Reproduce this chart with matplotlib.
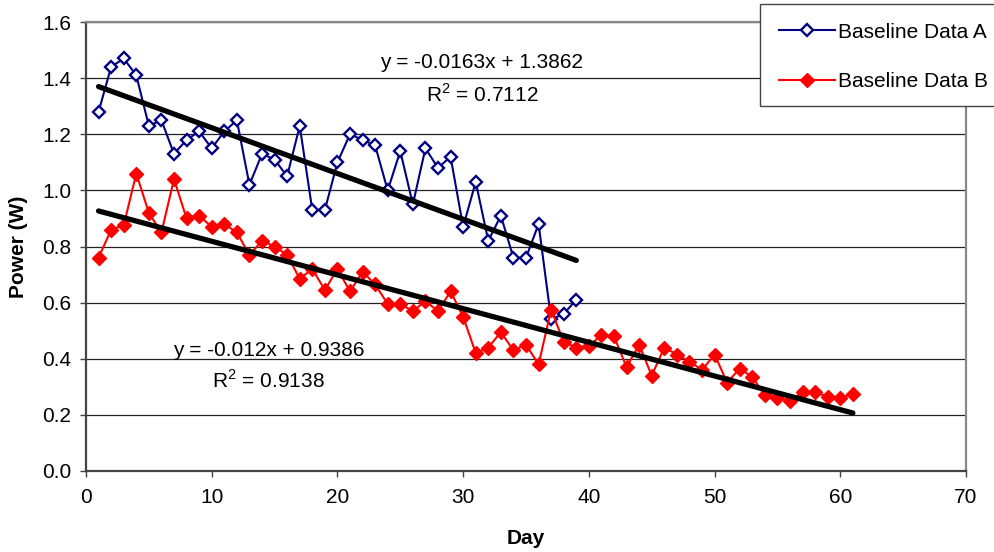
import numpy as np
import matplotlib
matplotlib.use("Agg")
import matplotlib.pyplot as plt
from matplotlib.patches import Rectangle

plt.rcParams["font.family"] = ["Liberation Sans", "DejaVu Sans"]
plt.rcParams["mathtext.fontset"] = "custom"
plt.rcParams["mathtext.rm"] = "Liberation Sans"

# ---- data ----
days_a = list(range(1, 40))
power_a = [1.28, 1.44, 1.47, 1.41, 1.23, 1.25, 1.13, 1.18, 1.21, 1.15,
           1.21, 1.25, 1.02, 1.13, 1.11, 1.05, 1.23, 0.93, 0.93, 1.10,
           1.20, 1.18, 1.16, 1.00, 1.14, 0.95, 1.15, 1.08, 1.12, 0.87,
           1.03, 0.82, 0.91, 0.76, 0.76, 0.88, 0.54, 0.56, 0.61]

days_b = list(range(1, 62))
power_b = [0.76, 0.86, 0.875, 1.06, 0.92, 0.85, 1.04, 0.90, 0.91, 0.87,
           0.88, 0.85, 0.77, 0.82, 0.80, 0.77, 0.685, 0.72, 0.645, 0.72,
           0.64, 0.71, 0.665, 0.595, 0.595, 0.57, 0.605, 0.57, 0.64, 0.55,
           0.42, 0.44, 0.495, 0.43, 0.45, 0.38, 0.575, 0.46, 0.44, 0.445,
           0.485, 0.48, 0.37, 0.45, 0.34, 0.44, 0.415, 0.39, 0.36, 0.415,
           0.315, 0.365, 0.335, 0.27, 0.26, 0.25, 0.28, 0.28, 0.265, 0.26,
           0.275]

# linear trend coefficients (slope, intercept) and R^2
trend_a = (-0.0163, 1.3862, 0.7112)
trend_b = (-0.012, 0.9386, 0.9138)

x_ticks = [0, 10, 20, 30, 40, 50, 60, 70]
y_ticks = [0.0, 0.2, 0.4, 0.6, 0.8, 1.0, 1.2, 1.4, 1.6]

FS = 15

# ---- figure ----
fig = plt.figure(figsize=(9.94, 5.52), dpi=100)
ax = fig.add_axes([86 / 994, 81 / 552, 880 / 994, 449 / 552])

ax.set_xlim(0, 70)
ax.set_ylim(0, 1.6)
ax.set_xticks(x_ticks)
ax.set_yticks(y_ticks)
ax.set_yticklabels([f"{v:.1f}" for v in y_ticks])

ax.grid(axis="y", color="#222222", linewidth=0.9)
ax.set_axisbelow(True)

ax.plot(days_a, power_a, color="#000080", linewidth=1.5, marker="D",
        markersize=6, markerfacecolor="white", markeredgecolor="#000080",
        markeredgewidth=1.7, label="Baseline Data A", zorder=3)
ax.plot(days_b, power_b, color="#ff0000", linewidth=1.5, marker="D",
        markersize=7, markerfacecolor="#ff0000", markeredgecolor="#ff0000",
        label="Baseline Data B", zorder=3)

# trend lines
xa = np.array([days_a[0], days_a[-1]])
ax.plot(xa, trend_a[0] * xa + trend_a[1], color="black", linewidth=3.8,
        solid_capstyle="round", zorder=4)
xb = np.array([days_b[0], days_b[-1]])
ax.plot(xb, trend_b[0] * xb + trend_b[1], color="black", linewidth=3.8,
        solid_capstyle="round", zorder=4)

ax.text(31.5, 1.454, f"y = {trend_a[0]}x + {trend_a[1]}", fontsize=FS,
        ha="center", va="center")
ax.text(31.5, 1.340, f"R$^2$ = {trend_a[2]}", fontsize=FS,
        ha="center", va="center")
ax.text(14.5, 0.431, f"y = {trend_b[0]}x + {trend_b[1]}", fontsize=FS,
        ha="center", va="center")
ax.text(14.5, 0.324, f"R$^2$ = {trend_b[2]}", fontsize=FS,
        ha="center", va="center")

for side in ["left", "bottom"]:
    ax.spines[side].set_color("#444444")
    ax.spines[side].set_linewidth(1.6)
for side in ["top", "right"]:
    ax.spines[side].set_color("#888888")
    ax.spines[side].set_linewidth(1.6)

ax.tick_params(axis="both", direction="out", length=4.5, width=1,
               color="#444444", labelsize=FS)
ax.tick_params(axis="x", pad=8)
ax.tick_params(axis="y", pad=6)

ax.set_xlabel("Day", fontsize=FS, fontweight="bold")
ax.xaxis.set_label_coords(0.5, -0.13)
ax.set_ylabel("Power (W)", fontsize=FS, fontweight="bold")
ax.yaxis.set_label_coords(-0.066, 0.5)

# legend box runs off the right edge of the figure
W, H = 994, 552
fig.patches.append(Rectangle((760 / W, 1 - 106 / H), 300 / W, 102 / H,
                             transform=fig.transFigure, facecolor="white",
                             edgecolor="#444444", linewidth=1.0, zorder=5))
leg = fig.legend(loc="upper left", bbox_to_anchor=(760 / W, 1 - 4 / H),
                 fontsize=FS, frameon=False, handlelength=2.7,
                 handletextpad=0.15, labelspacing=1.45, borderpad=0.9,
                 borderaxespad=0, numpoints=1)
leg.set_zorder(6)

fig.savefig("out.png", dpi=100)
